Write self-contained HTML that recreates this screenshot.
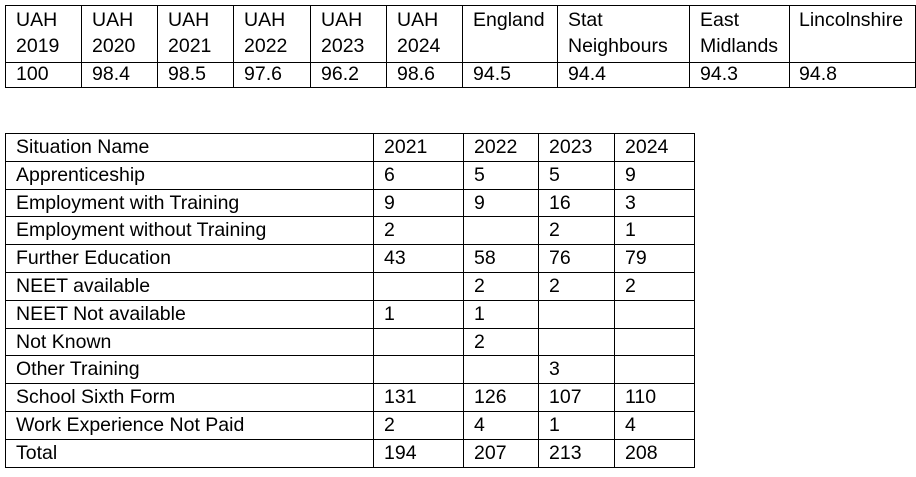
<!DOCTYPE html>
<html><head><meta charset="utf-8"><style>
body{margin:0;width:916px;height:477px;background:#fff;position:relative;overflow:hidden;font-family:"Liberation Sans",sans-serif;font-size:19.5px;color:#000}
.h,.v{position:absolute;background:#000}
.h{height:1px}.v{width:1px}
.t{position:absolute;line-height:26px;white-space:nowrap}
</style></head><body>
<!-- top table -->
<div class="h" style="left:5px;top:5px;width:911px"></div>
<div class="h" style="left:5px;top:62px;width:911px"></div>
<div class="h" style="left:5px;top:87px;width:911px"></div>
<div class="v" style="left:5px;top:5px;height:83px"></div>
<div class="v" style="left:81px;top:5px;height:83px"></div>
<div class="v" style="left:157px;top:5px;height:83px"></div>
<div class="v" style="left:233px;top:5px;height:83px"></div>
<div class="v" style="left:310px;top:5px;height:83px"></div>
<div class="v" style="left:386px;top:5px;height:83px"></div>
<div class="v" style="left:462px;top:5px;height:83px"></div>
<div class="v" style="left:557px;top:5px;height:83px"></div>
<div class="v" style="left:689px;top:5px;height:83px"></div>
<div class="v" style="left:789px;top:5px;height:83px"></div>
<div class="v" style="left:915px;top:5px;height:83px"></div>

<div class="t" style="left:16px;top:7px">UAH<br>2019</div>
<div class="t" style="left:92px;top:7px">UAH<br>2020</div>
<div class="t" style="left:168px;top:7px">UAH<br>2021</div>
<div class="t" style="left:244px;top:7px">UAH<br>2022</div>
<div class="t" style="left:321px;top:7px">UAH<br>2023</div>
<div class="t" style="left:397px;top:7px">UAH<br>2024</div>
<div class="t" style="left:473px;top:7px">England</div>
<div class="t" style="left:568px;top:7px">Stat<br>Neighbours</div>
<div class="t" style="left:700px;top:7px">East<br>Midlands</div>
<div class="t" style="left:799px;top:7px">Lincolnshire</div>
<div class="t" style="left:16px;top:61px">100</div>
<div class="t" style="left:92px;top:61px">98.4</div>
<div class="t" style="left:168px;top:61px">98.5</div>
<div class="t" style="left:244px;top:61px">97.6</div>
<div class="t" style="left:321px;top:61px">96.2</div>
<div class="t" style="left:397px;top:61px">98.6</div>
<div class="t" style="left:473px;top:61px">94.5</div>
<div class="t" style="left:568px;top:61px">94.4</div>
<div class="t" style="left:700px;top:61px">94.3</div>
<div class="t" style="left:799px;top:61px">94.8</div>

<!-- second table -->
<div id="t2"></div>
<script>
var rows=[["Situation Name","2021","2022","2023","2024"],
["Apprenticeship","6","5","5","9"],
["Employment with Training","9","9","16","3"],
["Employment without Training","2","","2","1"],
["Further Education","43","58","76","79"],
["NEET available","","2","2","2"],
["NEET Not available","1","1","",""],
["Not Known","","2","",""],
["Other Training","","","3",""],
["School Sixth Form","131","126","107","110"],
["Work Experience Not Paid","2","4","1","4"],
["Total","194","207","213","208"]];
var cols=[5,373,463,538,614,694];
var top0=133,rh=27.8,h="";
for(var i=0;i<=rows.length;i++){h+='<div class="h" style="left:5px;top:'+Math.round(top0+i*rh)+'px;width:690px"></div>';}
var H=Math.round(rows.length*rh)+1;
cols.forEach(function(c){h+='<div class="v" style="left:'+c+'px;top:'+top0+'px;height:'+H+'px"></div>';});
rows.forEach(function(r,i){r.forEach(function(s,j){if(s)h+='<div class="t" style="left:'+(cols[j]+11)+'px;top:'+Math.round(top0+i*rh+1)+'px">'+s+'</div>';});});
document.getElementById('t2').innerHTML=h;
</script>
</body></html>
